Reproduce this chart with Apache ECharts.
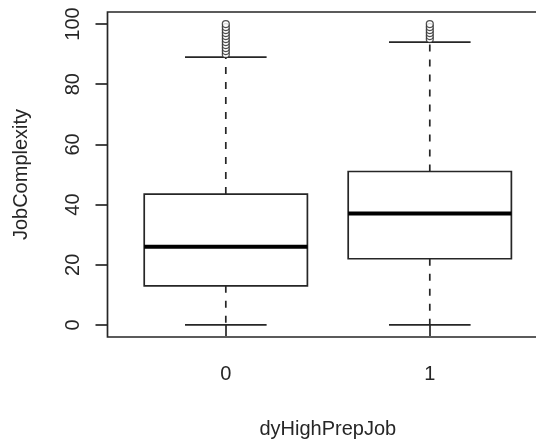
<!DOCTYPE html>
<html>
<head>
<meta charset="utf-8">
<script src="https://cdn.jsdelivr.net/npm/echarts@6/dist/echarts.min.js"></script>
<style>
  html, body { margin: 0; padding: 0; background: #ffffff; }
  #chart { width: 536px; height: 440px; }
</style>
</head>
<body>
<div id="chart"></div>
<script>
// ---- data ----
const categories = ['0', '1'];
const categoryPositions = [1, 2];
const whiskerLow = [0, 0];
const quartile1 = [13, 22];
const medians = [26, 37];
const quartile3 = [43.5, 51];
const whiskerHigh = [89, 94];
const outliers0 = [90, 91, 92, 93, 94, 95, 96, 97, 98, 99, 100];
const outliers1 = [95, 96, 97, 98, 99, 100];
const yTicks = [0, 20, 40, 60, 80, 100];
const xLabel = 'dyHighPrepJob';
const yLabel = 'JobComplexity';

const ink = '#262626';
const textColor = '#262626';
const fontFamily = '"Liberation Sans", Arial, Helvetica, sans-serif';

const boxData = categoryPositions.map((x, i) => [x, whiskerLow[i], quartile1[i], medians[i], quartile3[i], whiskerHigh[i]]);
const outlierData = []
  .concat(outliers0.map(v => [categoryPositions[0], v]))
  .concat(outliers1.map(v => [categoryPositions[1], v]));

const chart = echarts.init(document.getElementById('chart'), null, { renderer: 'canvas' });

chart.setOption({
  animation: false,
  backgroundColor: '#ffffff',
  grid: {
    left: 107.5,
    top: 12,
    width: 440.6,
    height: 325,
    containLabel: false,
    outerBoundsMode: 'none',
    show: true,
    borderColor: ink,
    borderWidth: 1.7,
    backgroundColor: 'transparent'
  },
  xAxis: {
    type: 'value',
    min: 0.42,
    max: 2.58,
    splitLine: { show: false },
    axisLine: { show: false },
    axisTick: {
      show: true,
      customValues: categoryPositions,
      length: 11,
      lineStyle: { color: ink, width: 1.7 }
    },
    axisLabel: {
      show: true,
      customValues: categoryPositions,
      formatter: v => categories[categoryPositions.indexOf(Math.round(v))] ?? '',
      fontSize: 20,
      color: textColor,
      fontFamily: fontFamily,
      margin: 27
    },
    name: xLabel,
    nameLocation: 'middle',
    nameGap: 82,
    nameTextStyle: { fontSize: 20, color: textColor, fontFamily: fontFamily }
  },
  yAxis: {
    type: 'value',
    min: -4,
    max: 104,
    splitLine: { show: false },
    axisLine: { show: false },
    axisTick: {
      show: true,
      customValues: yTicks,
      length: 12,
      lineStyle: { color: ink, width: 1.7 }
    },
    axisLabel: {
      show: true,
      customValues: yTicks,
      rotate: 90,
      fontSize: 20,
      color: textColor,
      fontFamily: fontFamily,
      margin: 24
    },
    name: yLabel,
    nameLocation: 'middle',
    nameGap: 76,
    nameTextStyle: { fontSize: 20, color: textColor, fontFamily: fontFamily }
  },
  series: [
    {
      type: 'custom',
      data: boxData,
      encode: { x: 0, y: [1, 2, 3, 4, 5] },
      renderItem: function (params, api) {
        const x = api.value(0);
        const lo = api.value(1), q1 = api.value(2), med = api.value(3), q3 = api.value(4), hi = api.value(5);
        const boxW = api.size([0.8, 0])[0];
        const capW = api.size([0.4, 0])[0];
        const pLo = api.coord([x, lo]);
        const pQ1 = api.coord([x, q1]);
        const pMed = api.coord([x, med]);
        const pQ3 = api.coord([x, q3]);
        const pHi = api.coord([x, hi]);
        const cx = pMed[0];
        const lineStyle = { stroke: ink, lineWidth: 1.7 };
        const dashStyle = { stroke: ink, lineWidth: 1.7, lineDash: [7, 8] };
        return {
          type: 'group',
          children: [
            { type: 'line', shape: { x1: cx, y1: pQ3[1], x2: cx, y2: pHi[1] }, style: dashStyle },
            { type: 'line', shape: { x1: cx, y1: pQ1[1], x2: cx, y2: pLo[1] }, style: dashStyle },
            { type: 'line', shape: { x1: cx - capW / 2, y1: pHi[1], x2: cx + capW / 2, y2: pHi[1] }, style: lineStyle },
            { type: 'line', shape: { x1: cx - capW / 2, y1: pLo[1], x2: cx + capW / 2, y2: pLo[1] }, style: lineStyle },
            { type: 'rect', shape: { x: cx - boxW / 2, y: pQ3[1], width: boxW, height: pQ1[1] - pQ3[1] },
              style: { fill: '#ffffff', stroke: ink, lineWidth: 1.7 } },
            { type: 'line', shape: { x1: cx - boxW / 2, y1: pMed[1], x2: cx + boxW / 2, y2: pMed[1] },
              style: { stroke: '#000000', lineWidth: 4 } }
          ]
        };
      },
      z: 2
    },
    {
      type: 'scatter',
      data: outlierData,
      symbol: 'circle',
      symbolSize: 7,
      itemStyle: { color: '#ffffff', borderColor: ink, borderWidth: 1.2 },
      z: 3
    }
  ]
});
</script>
</body>
</html>
